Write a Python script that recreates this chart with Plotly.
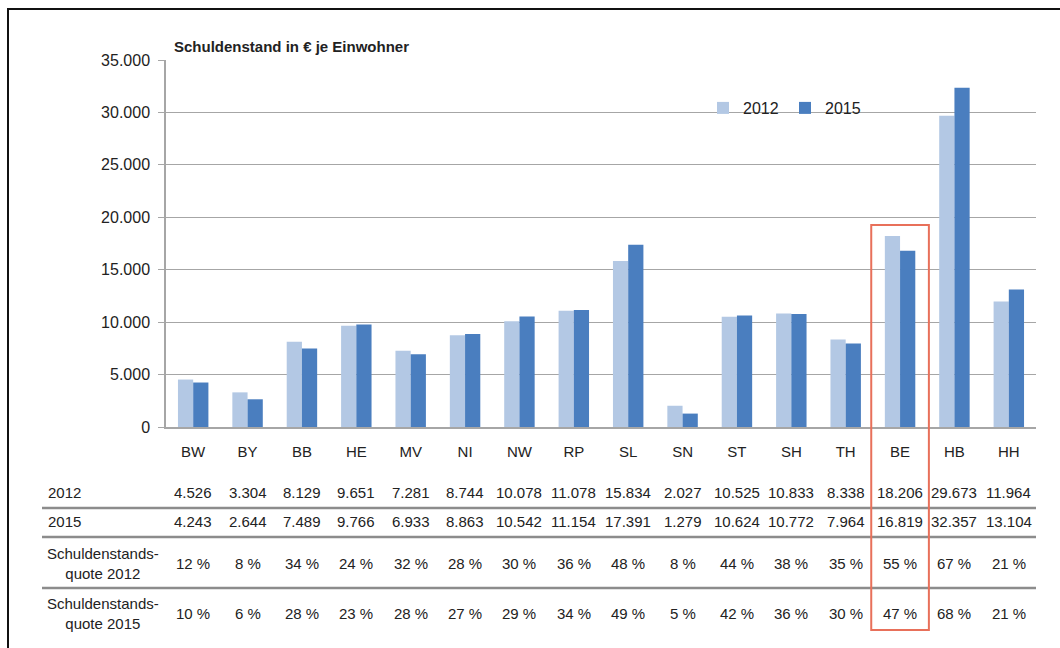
import plotly.graph_objects as go

categories = ["BW", "BY", "BB", "HE", "MV", "NI", "NW", "RP", "SL", "SN", "ST", "SH", "TH", "BE", "HB", "HH"]
debt_2012 = [4526, 3304, 8129, 9651, 7281, 8744, 10078, 11078, 15834, 2027, 10525, 10833, 8338, 18206, 29673, 11964]
debt_2015 = [4243, 2644, 7489, 9766, 6933, 8863, 10542, 11154, 17391, 1279, 10624, 10772, 7964, 16819, 32357, 13104]
quote_2012 = [12, 8, 34, 24, 32, 28, 30, 36, 48, 8, 44, 38, 35, 55, 67, 21]
quote_2015 = [10, 6, 28, 23, 28, 27, 29, 34, 49, 5, 42, 36, 30, 47, 68, 21]
y_ticks = [0, 5000, 10000, 15000, 20000, 25000, 30000, 35000]
highlight = "BE"

W, H = 1060, 648
FONT = "Liberation Sans Narrow, Arial Narrow, Liberation Sans, Arial, sans-serif"
TXT = "#222222"

def px_x(x):
    return x / W

def px_y(y):
    return 1 - y / H

def de(v):
    return f"{v:,}".replace(",", ".")

fig = go.Figure()
fig.add_trace(go.Bar(name="2012", x=categories, y=debt_2012, marker_color="#B3C8E4",
                     marker_line_width=0))
fig.add_trace(go.Bar(name="2015", x=categories, y=debt_2015, marker_color="#4A7EBF",
                     marker_line_width=0))

x0, x1 = 166, 1036
ytop, ybot = 60, 427

annotations = []
annotations.append(dict(text="<b>Schuldenstand in € je Einwohner</b>", x=px_x(172), y=px_y(47),
                        xref="paper", yref="paper", xanchor="left", yanchor="middle",
                        showarrow=False, font=dict(family=FONT, size=15, color=TXT)))

rows = [
    ([de(v) for v in debt_2012], 492, "2012"),
    ([de(v) for v in debt_2015], 521, "2015"),
    ([f"{v} %" for v in quote_2012], 563, "Schuldenstands-<br>quote 2012"),
    ([f"{v} %" for v in quote_2015], 613, "Schuldenstands-<br>quote 2015"),
]
for vals, yy, label in rows:
    for c, t in zip(categories, vals):
        annotations.append(dict(text=t, x=c, y=px_y(yy), xref="x", yref="paper",
                                xanchor="center", yanchor="middle", showarrow=False,
                                font=dict(family=FONT, size=15, color=TXT)))
    if "<br>" in label:
        annotations.append(dict(text=label, x=px_x(103), y=px_y(yy), xref="paper", yref="paper",
                                xanchor="center", yanchor="middle", showarrow=False, align="center",
                                font=dict(family=FONT, size=15, color=TXT)))
    else:
        annotations.append(dict(text=label, x=px_x(46), y=px_y(yy), xref="paper", yref="paper",
                                xanchor="left", yanchor="middle", showarrow=False,
                                font=dict(family=FONT, size=15, color=TXT)))

shapes = []
# outer frame
shapes.append(dict(type="rect", xref="paper", yref="paper", x0=px_x(8), x1=px_x(1080),
                   y0=px_y(680), y1=px_y(9), line=dict(color="#111111", width=2), layer="above"))
# table separators
for yy in [508, 537, 588]:
    shapes.append(dict(type="line", xref="paper", yref="paper", x0=px_x(42), x1=px_x(1036),
                       y0=px_y(yy), y1=px_y(yy), line=dict(color="#8C8C8C", width=2.5)))
# white gap behind legend
shapes.append(dict(type="rect", xref="paper", yref="paper", x0=px_x(694), x1=px_x(891),
                   y0=px_y(100), y1=px_y(116), fillcolor="white", line=dict(width=0), layer="between"))
# highlight box
hi = categories.index(highlight)
shapes.append(dict(type="rect", xref="x", yref="paper", x0=hi - 0.53, x1=hi + 0.53,
                   y0=px_y(630), y1=px_y(225), line=dict(color="#E8705A", width=2), layer="above"))

fig.update_layout(
    width=W, height=H,
    margin=dict(l=0, r=0, t=0, b=0, autoexpand=False),
    paper_bgcolor="white", plot_bgcolor="white",
    barmode="group", bargap=0.44, bargroupgap=0,
    font=dict(family=FONT, size=14, color=TXT),
    xaxis=dict(domain=[px_x(x0), px_x(x1)], type="category", showgrid=False,
               showline=True, linecolor="#A6A6A6", linewidth=1.5,
               ticks="", tickfont=dict(family=FONT, size=15, color=TXT),
               ticklabelstandoff=10),
    yaxis=dict(domain=[px_y(ybot), px_y(ytop)], range=[0, 35000], tickvals=y_ticks,
               ticktext=[de(v) for v in y_ticks], showgrid=True, gridcolor="#A6A6A6",
               gridwidth=1, showline=True, linecolor="#A6A6A6", linewidth=1.5,
               ticks="outside", ticklen=6, tickcolor="#A6A6A6", zeroline=False,
               tickfont=dict(family=FONT, size=16, color=TXT), ticklabelstandoff=5),
    legend=dict(orientation="h", x=px_x(703), y=px_y(108), xanchor="left", yanchor="middle",
                bgcolor="rgba(0,0,0,0)", font=dict(family=FONT, size=16, color=TXT),
                entrywidth=37, entrywidthmode="pixels", itemwidth=30),
    showlegend=True,
    annotations=annotations,
    shapes=shapes,
)

fig.write_html("out.html", config={"displayModeBar": False},
               post_script="document.body.style.margin='0px';document.body.style.overflow='hidden';")
